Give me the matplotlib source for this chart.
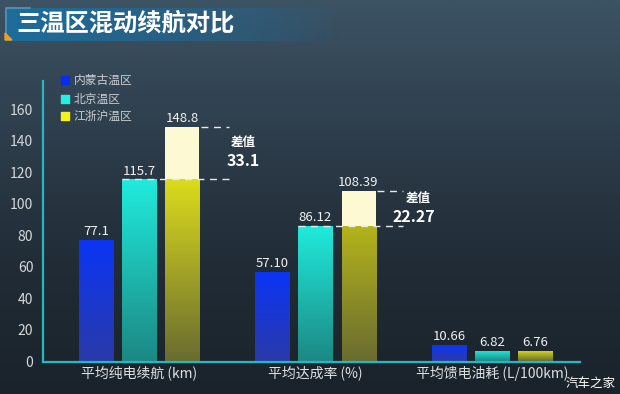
import numpy as np
import matplotlib
matplotlib.use("Agg")
import matplotlib.pyplot as plt
from matplotlib.colors import LinearSegmentedColormap, to_rgb
from matplotlib.patches import Polygon

plt.rcParams['font.family'] = ['Noto Sans CJK SC', 'DejaVu Sans']

# data
title = '三温区混动续航对比'
categories = ['平均纯电续航 (km)', '平均达成率 (%)', '平均馈电油耗 (L/100km)']
regions = ['内蒙古温区', '北京温区', '江浙沪温区']
inner_mongolia = [77.1, 57.10, 10.66]
beijing = [115.7, 86.12, 6.82]
jzh = [148.8, 108.39, 6.76]
value_labels = [['77.1', '57.10', '10.66'],
                ['115.7', '86.12', '6.82'],
                ['148.8', '108.39', '6.76']]
diff_labels = ['33.1', '22.27']
yticks = [0, 20, 40, 60, 80, 100, 120, 140, 160]

series = [inner_mongolia, beijing, jzh]
legend_colors = ['#0a2cf0', '#22f2e2', '#f2f21c']
top_colors = ['#0b35f6', '#20ecdc', '#dcdc1c']
bottom_colors = ['#2a3aa8', '#1c8884', '#6a6c30']

W, H = 620, 394
fig = plt.figure(figsize=(6.2, 3.94), dpi=100)

# background
bg = fig.add_axes([0, 0, 1, 1])
bg.set_xlim(0, W)
bg.set_ylim(H, 0)
bg.axis('off')
grad = np.linspace(0, 1, 256).reshape(-1, 1)
bg_cmap = LinearSegmentedColormap.from_list('bg', ['#3c5364', '#2e3e4c', '#212c36', '#1a232b'])
bg.imshow(grad, extent=(0, W, H, 0), cmap=bg_cmap, aspect='auto', zorder=0)

# title banner
banner = np.zeros((1, 256, 4))
c = to_rgb('#1d6d9c')
banner[..., 0], banner[..., 1], banner[..., 2] = c
banner[..., 3] = np.linspace(1, 0, 256) ** 0.8
bg.imshow(banner, extent=(6, 340, 41, 8), aspect='auto', zorder=1)
bg.plot([6, 6, 30], [38, 8, 8], color='#5d93b8', lw=1.2, zorder=2)
bg.add_patch(Polygon([(5, 33), (12, 40), (5, 40)], closed=True, color='#f0a020', zorder=3))
bg.text(16, 24, title, color='white', fontsize=17.5, fontweight='bold', va='center', ha='left', zorder=4)
bg.text(616, 383, '汽车之家', color='white', fontsize=9, ha='right', va='center', zorder=4)

# main axes
ax = fig.add_axes([43 / W, 1 - 361.5 / H, 537 / W, 280.5 / H])
ax.set_facecolor('none')
ax.set_xlim(-0.544, 2.499)
ax.set_ylim(0, 178)

x = np.arange(len(categories))
bw = 0.193
step = 0.244


def grad_fill(patch, c_bottom, c_top):
    bx, by = patch.get_x(), patch.get_y()
    w, h = patch.get_width(), patch.get_height()
    cm = LinearSegmentedColormap.from_list('g', [c_bottom, c_top])
    im = ax.imshow(np.linspace(0, 1, 128).reshape(-1, 1), extent=(bx, bx + w, by, by + h),
                   origin='lower', cmap=cm, aspect='auto', zorder=2)
    im.set_clip_path(patch)


for i, vals in enumerate(series):
    bars = ax.bar(x + (i - 1) * step, vals, width=bw, color='none', zorder=2)
    for j, b in enumerate(bars):
        if i == 2 and j < 2:
            # lower part up to Beijing value, pale top part above it
            lower = ax.bar(b.get_x() + bw / 2, beijing[j], width=bw, color='none', zorder=2)[0]
            top_c = '#dcdc1c' if j == 0 else '#b4b41c'
            grad_fill(lower, bottom_colors[i], top_c)
            ax.bar(b.get_x() + bw / 2, vals[j] - beijing[j], bottom=beijing[j], width=bw,
                   color='#fdf9d2', zorder=2)
        else:
            grad_fill(b, bottom_colors[i], top_colors[i])
        ax.text(b.get_x() + bw / 2, vals[j] + 1, value_labels[i][j], ha='center', va='bottom',
                color='#f2f2f2', fontsize=9.5, zorder=4)

# difference markers
dash_end = [0.508, 1.498]
for j in range(2):
    xl = x[j]
    ax.plot([xl - bw / 2, dash_end[j]], [beijing[j], beijing[j]], color='#e8e8e8',
            lw=1, ls=(0, (5, 4)), zorder=3)
    ax.plot([xl + step + bw / 2 + 0.01, dash_end[j]], [jzh[j], jzh[j]], color='#e8e8e8',
            lw=1, ls=(0, (5, 4)), zorder=3)
ax.text(0.59, 139, '差值', color='white', fontsize=9, fontweight='bold', ha='center', va='center', zorder=4)
ax.text(0.59, 127.5, diff_labels[0], color='white', fontsize=11.5, fontweight='bold', ha='center', va='center', zorder=4)
ax.text(1.58, 103.5, '差值', color='white', fontsize=9, fontweight='bold', ha='center', va='center', zorder=4)
ax.text(1.555, 92, diff_labels[1], color='white', fontsize=11.5, fontweight='bold', ha='center', va='center', zorder=4)

# axes styling
for s in ['top', 'right']:
    ax.spines[s].set_visible(False)
for s in ['left', 'bottom']:
    ax.spines[s].set_color('#25b8c0')
    ax.spines[s].set_linewidth(1.6)
ax.set_yticks(yticks)
ax.set_xticks(x)
ax.set_xticklabels(categories)
ax.tick_params(axis='y', length=0, colors='#d4d8dc', labelsize=10, pad=7)
ax.tick_params(axis='x', length=0, colors='#dde0e3', labelsize=10, pad=3)

# legend
ly = [178.4, 166.3, 155.6]
for k in range(3):
    ax.scatter([-0.419], [ly[k]], marker='s', s=30, color=legend_colors[k], zorder=4, clip_on=False)
    ax.text(-0.37, ly[k], regions[k], color='#c8ccd0', fontsize=8.5, va='center', ha='left', zorder=4)

fig.savefig('out.png', dpi=100)
